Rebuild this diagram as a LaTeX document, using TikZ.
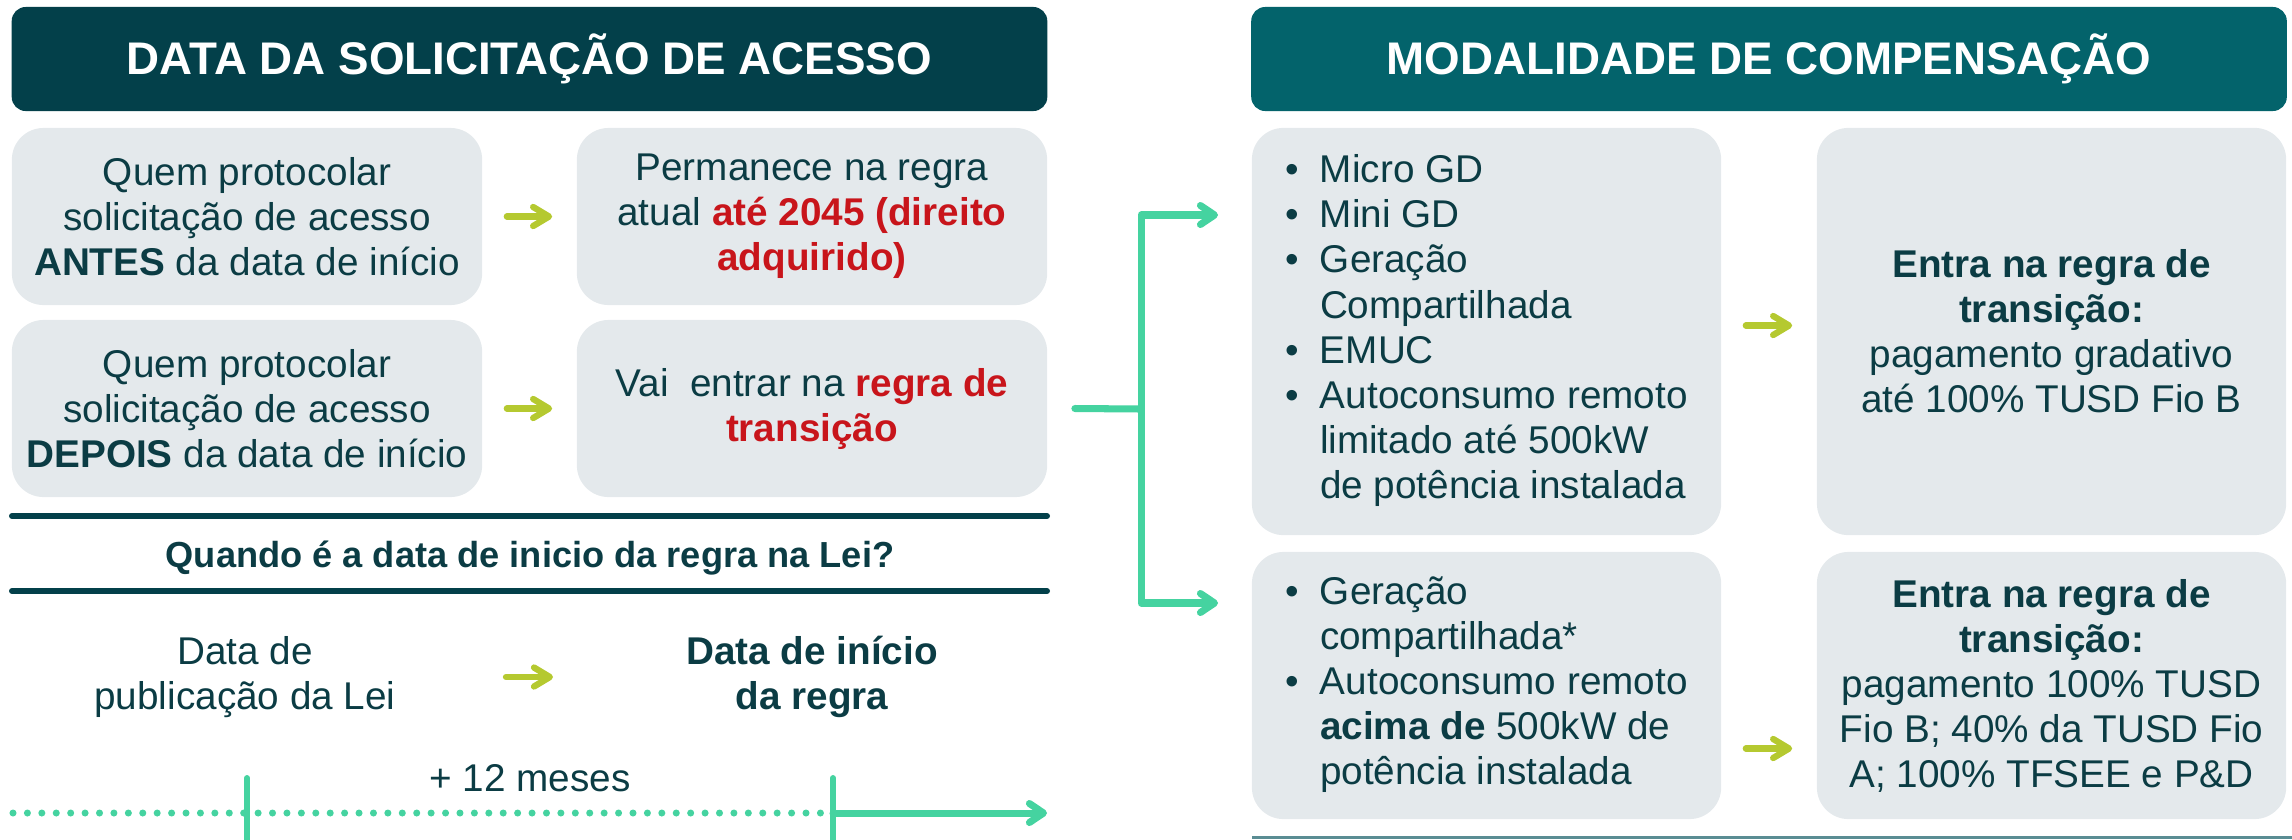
\documentclass[tikz,border=0pt]{standalone}
\usepackage{fontspec}
\setmainfont{Liberation Sans}
\usetikzlibrary{arrows.meta, calc}

\definecolor{hdrdark}{HTML}{03404A}
\definecolor{hdrteal}{HTML}{03636B}
\definecolor{boxgray}{HTML}{E4E9EC}
\definecolor{ink}{HTML}{0B3C44}
\definecolor{alert}{HTML}{C8151B}
\definecolor{lime}{HTML}{B5C930}
\definecolor{mint}{HTML}{45D3A0}
\definecolor{rule}{HTML}{5A8D93}

\begin{document}
\begin{tikzpicture}[x=0.01cm, y=-0.01cm,
    every node/.style={text=ink, inner sep=0pt, font=\fontsize{11}{12.8}\selectfont},
    header/.style={rounded corners=4pt, minimum width=10.35cm, minimum height=1.04cm,
        text=white, font=\fontsize{13}{15}\selectfont\bfseries},
    box/.style={fill=boxgray, rounded corners=9pt, align=center},
    boxL/.style={box, minimum width=4.70cm, minimum height=1.77cm},
    boxR/.style={box, minimum width=4.69cm},
    go/.style={draw=lime, line width=1.8pt, line cap=round,
        -{Straight Barb[length=4.5pt, width=5.4pt, round]}},
    flow/.style={draw=mint, line width=2pt, line cap=round, line join=round,
        -{Straight Barb[length=4pt, width=5.4pt, round]}},
    bar/.style={draw=hdrdark, line width=1.7pt, line cap=round}
]
    % Frame
    \useasboundingbox (0,0) rectangle (2292,839);

    % Headers
    \node[header, fill=hdrdark] (hdrAccess) at (529.5,59) {DATA DA SOLICITAÇÃO DE ACESSO};
    \node[header, fill=hdrteal] (hdrMode) at (1769,59) {MODALIDADE DE COMPENSAÇÃO};

    % Left boxes
    \node[boxL] (before) at (247,216.5) {Quem protocolar\\solicitação de acesso\\\textbf{ANTES} da data de início};
    \node[boxL] (keep) at (812,216.5) {Permanece na regra\\atual \textcolor{alert}{\textbf{até 2045 (direito}}\\\textcolor{alert}{\textbf{adquirido)}}};
    \node[boxL] (after) at (247,408.5) {Quem protocolar\\solicitação de acesso\\\textbf{DEPOIS} da data de início};
    \node[boxL] (enter) at (812,408.5) {Vai\ \ entrar na \textcolor{alert}{\textbf{regra de}}\\\textcolor{alert}{\textbf{transição}}};
    \draw[go] ([xshift=24*0.01cm]before.east) -- ([xshift=-24*0.01cm]keep.west);
    \draw[go] ([xshift=24*0.01cm]after.east) -- ([xshift=-24*0.01cm]enter.west);

    % Question between bars
    \coordinate (barA) at (12,516);
    \coordinate (barB) at (12,591);
    \draw[bar] (barA) -- ++(1035,0);
    \draw[bar] (barB) -- ++(1035,0);
    \node[font=\fontsize{10.3}{12.5}\selectfont\bfseries] (question) at (530,558) {Quando é a data de inicio da regra na Lei?};

    % Dates
    \node[align=center] (publish) at (245,677) {Data de\\publicação da Lei};
    \node[align=center, font=\fontsize{11}{12.8}\selectfont\bfseries] (start) at (812,677) {Data de início\\da regra};
    \draw[go] (506,677) coordinate (goA) -- (553,677) coordinate (goB);

    % Timeline
    \coordinate (tl0) at (13,813);
    \coordinate (tPub) at (247,813);
    \coordinate (tStart) at (833,813);
    \coordinate (tEnd) at (1047,813);
    \draw[mint, line width=2pt, line cap=round, dash pattern=on 0pt off 4.1pt] (tl0) -- (tStart);
    \foreach \t in {tPub,tStart}
    {
        \draw[mint, line width=1.7pt, line cap=round] (\t) ++(0,-35) -- ++(0,70);
    }
    \draw[flow] (tStart) -- (tEnd);
    \node (months) at (530,778) {+ 12 meses};

    % Right boxes
    \node[boxR, minimum height=4.07cm] (modeA) at (1486.5,331.5) {%
        \begin{tabular}{@{}l@{\hspace{6pt}}l@{}}
        \textbullet & Micro GD\\
        \textbullet & Mini GD\\
        \textbullet & Geração\\
         & Compartilhada\\
        \textbullet & EMUC\\
        \textbullet & Autoconsumo remoto\\
         & limitado até 500kW\\
         & de potência instalada
        \end{tabular}};
    \node[boxR, minimum height=4.07cm] (ruleA) at (2051.5,331.5) {\textbf{Entra na regra de}\\\textbf{transição:}\\pagamento gradativo\\até 100\% TUSD Fio B};
    \node[boxR, minimum height=2.67cm] (modeB) at (1486.5,685.5) {%
        \begin{tabular}{@{}l@{\hspace{6pt}}l@{}}
        \textbullet & Geração\\
         & compartilhada*\\
        \textbullet & Autoconsumo remoto\\
         & \textbf{acima de} 500kW de\\
         & potência instalada
        \end{tabular}};
    \node[boxR, minimum height=2.67cm] (ruleB) at (2051.5,685.5) {\textbf{Entra na regra de}\\\textbf{transição:}\\pagamento 100\% TUSD\\Fio B; 40\% da TUSD Fio\\A; 100\% TFSEE e P\&D};
    \draw[go] ([xshift=24*0.01cm, yshift=6*0.01cm]modeA.east) -- ([xshift=-24*0.01cm, yshift=6*0.01cm]ruleA.west);
    \draw[go] ([xshift=24*0.01cm, yshift=-63*0.01cm]modeB.east) -- ([xshift=-24*0.01cm, yshift=-63*0.01cm]ruleB.west);

    % Split connector
    \coordinate (split) at (1141,409);
    \coordinate (inA) at (1218,215);
    \coordinate (inB) at (1218,603);
    \draw[mint, line width=2pt, line cap=round] ([xshift=27*0.01cm]enter.east) -- (split);
    \draw[flow] (split) |- (inA);
    \draw[flow] (split) |- (inB);

    % Bottom rule
    \draw[rule, line width=0.8pt] (1252,837.5) -- (2292,837.5);
\end{tikzpicture}
\end{document}
